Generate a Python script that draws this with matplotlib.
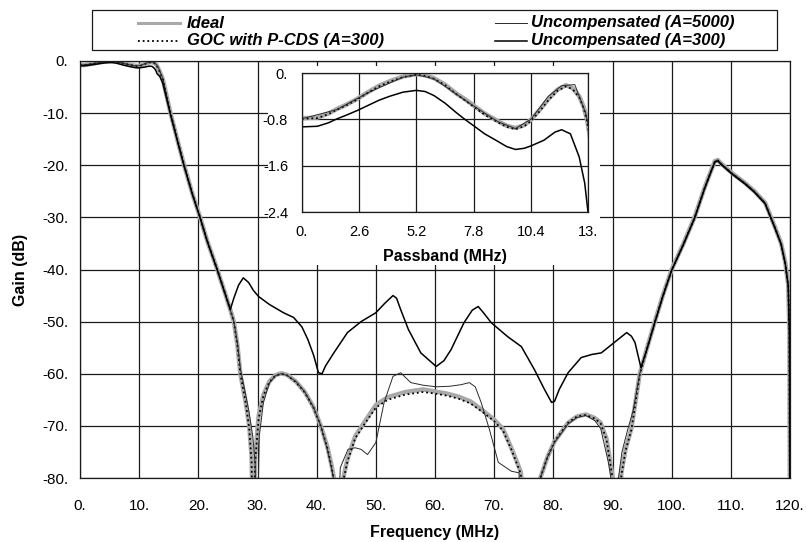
import matplotlib
matplotlib.use("Agg")
import matplotlib.pyplot as plt
from matplotlib.patches import Rectangle
from matplotlib.lines import Line2D

plt.rcParams['font.family'] = ['Liberation Sans', 'DejaVu Sans']

# ---- data (frequency in MHz, gain in dB) ----
freq_ideal = [0, 0.7, 1.2, 1.6, 2.0, 2.5, 3.0, 3.5, 4.0, 4.6,
              5.2, 5.6, 6.0, 6.5, 7.0, 7.4, 7.8, 8.3, 8.9, 9.3,
              9.7, 10.1, 10.4, 10.8, 11.2, 11.6, 12.0, 12.3, 12.6, 12.8,
              12.95, 13.3, 14.0, 15.3, 16.5, 17.6, 19.0, 20.3, 21.5, 23.2,
              24.5, 25.4, 26.0, 26.6, 27.1, 28.0, 28.6, 29.0, 29.3, 29.6,
              30.2, 31.0, 32.0, 33.0, 34.0, 35.0, 36.5, 38.0, 39.5, 40.7,
              41.8, 42.5, 43.0, 43.7, 44.5, 45.2, 46.5, 48.0, 50.0, 52.0,
              55.0, 58.0, 60.0, 62.0, 64.0, 66.0, 68.0, 70.0, 71.5, 73.0,
              74.5, 75.5, 76.5, 77.8, 79.0, 80.2, 82.5, 84.0, 85.5, 87.0,
              88.0, 89.0, 90.2, 90.8, 91.5, 92.2, 93.2, 94.6, 95.8, 97.1,
              98.5, 100.0, 102.0, 103.9, 105.5, 106.5, 107.3, 107.8, 108.5, 110.2,
              112.4, 114.0, 115.8, 117.5, 118.5, 119.2, 119.7, 119.9, 120.0]
gain_ideal = [-0.78, -0.77, -0.70, -0.62, -0.55, -0.45, -0.33, -0.22, -0.14, -0.06,
              -0.02, -0.04, -0.09, -0.20, -0.35, -0.45, -0.56, -0.70, -0.83, -0.91,
              -0.95, -0.90, -0.81, -0.64, -0.45, -0.29, -0.21, -0.26, -0.40, -0.58,
              -0.80, -1.6, -3.5, -10.0, -15.3, -20.0, -25.5, -30.0, -34.5, -40.0,
              -44.5, -47.7, -50.0, -54.5, -60.0, -65.5, -70.0, -76.0, -95.0, -76.0,
              -68.0, -64.0, -61.5, -60.3, -59.9, -60.2, -61.5, -63.5, -66.5, -70.0,
              -74.0, -77.5, -80.5, -95.0, -80.0, -76.4, -72.0, -69.4, -66.0, -64.5,
              -63.5, -63.0, -63.4, -63.8, -64.4, -65.3, -67.0, -68.8, -70.6, -74.5,
              -78.8, -90.0, -100.0, -80.0, -76.0, -73.0, -69.4, -68.2, -67.8, -68.5,
              -69.4, -72.5, -81.0, -100.0, -79.0, -74.5, -70.5, -60.0, -55.2, -50.2,
              -45.0, -40.0, -35.0, -29.9, -24.5, -21.5, -19.2, -19.0, -19.8, -21.5,
              -23.4, -25.0, -27.2, -32.0, -35.0, -38.7, -43.0, -52.0, -95.0]
gain_goc = [-0.79, -0.78, -0.71, -0.63, -0.56, -0.46, -0.34, -0.23, -0.15, -0.07,
            -0.03, -0.05, -0.10, -0.21, -0.36, -0.47, -0.58, -0.72, -0.85, -0.93,
            -0.97, -0.92, -0.83, -0.66, -0.47, -0.31, -0.23, -0.28, -0.42, -0.60,
            -0.82, -1.6, -3.5, -10.0, -15.3, -20.0, -25.5, -30.0, -34.5, -40.0,
            -44.5, -47.7, -50.0, -54.5, -60.0, -65.5, -70.5, -77.0, -95.0, -77.0,
            -68.5, -64.2, -61.6, -60.4, -60.0, -60.3, -61.6, -63.6, -66.6, -70.1,
            -74.2, -77.8, -81.0, -95.0, -80.5, -76.8, -72.4, -69.8, -66.5, -65.0,
            -64.0, -63.5, -63.8, -64.2, -64.8, -65.7, -67.3, -69.1, -70.9, -74.8,
            -79.2, -90.0, -100.0, -80.0, -76.0, -73.0, -69.4, -68.2, -67.9, -68.6,
            -69.5, -72.7, -81.5, -100.0, -79.5, -74.8, -70.7, -60.2, -55.3, -50.3,
            -45.1, -40.1, -35.1, -30.0, -24.6, -21.6, -19.3, -19.1, -19.9, -21.6,
            -23.5, -25.1, -27.3, -32.1, -35.1, -38.8, -43.1, -52.0, -95.0]

freq_a5000 = [0, 1.6, 3.0, 4.6, 5.2, 6.0, 7.0, 7.8, 8.9, 9.7,
              10.4, 11.2, 11.8, 12.4, 12.9, 13.3, 14.0, 15.3, 16.5, 17.6,
              19.0, 20.3, 21.5, 23.2, 24.5, 25.4, 26.0, 26.6, 27.1, 28.0,
              28.6, 29.2, 29.6, 29.9, 30.3, 31.0, 32.0, 33.0, 34.0, 35.0,
              36.5, 38.0, 39.5, 40.7, 41.8, 42.5, 42.9, 43.3, 44.0, 45.3,
              46.5, 47.5, 48.6, 50.0, 51.4, 52.9, 54.2, 55.9, 58.0, 60.2,
              62.5, 64.4, 65.8, 66.8, 67.8, 69.2, 70.7, 72.9, 74.2, 74.6,
              76.0, 77.8, 79.0, 80.2, 82.5, 84.0, 85.5, 87.0, 88.0, 89.3,
              89.8, 90.3, 91.0, 91.6, 92.5, 93.5, 94.6, 95.8, 97.1, 98.5,
              100.0, 102.0, 103.9, 105.5, 106.5, 107.3, 107.8, 108.5, 110.2, 112.4,
              114.0, 115.8, 117.5, 118.5, 119.2, 119.7, 119.9, 120.0]
gain_a5000 = [-0.79, -0.63, -0.34, -0.07, -0.03, -0.10, -0.36, -0.57, -0.84, -0.96,
              -0.80, -0.40, -0.22, -0.20, -0.70, -1.4, -3.4, -10.0, -15.3, -20.0,
              -25.5, -30.0, -34.5, -40.0, -44.5, -47.7, -50.0, -54.0, -59.0, -64.0,
              -67.5, -72.0, -77.0, -95.0, -72.0, -65.5, -61.8, -60.4, -60.0, -60.3,
              -61.5, -63.5, -66.5, -70.0, -74.5, -78.0, -80.5, -95.0, -78.0, -74.5,
              -74.2, -74.5, -75.5, -73.2, -65.5, -60.5, -59.8, -61.7, -62.2, -62.5,
              -62.4, -62.1, -61.7, -62.5, -65.5, -70.7, -77.0, -78.7, -79.0, -95.0,
              -100.0, -80.0, -76.0, -73.2, -69.6, -68.4, -68.0, -69.0, -70.5, -77.0,
              -80.5, -100.0, -80.0, -75.0, -71.0, -67.0, -60.0, -55.2, -50.2, -45.0,
              -40.0, -35.0, -29.9, -24.5, -21.5, -19.2, -19.0, -19.8, -21.5, -23.4,
              -25.0, -27.2, -32.0, -35.0, -38.7, -43.0, -52.0, -95.0]

freq_a300 = [0, 0.7, 1.2, 1.6, 2.0, 2.5, 3.0, 3.5, 4.0, 4.6,
             5.2, 5.6, 6.0, 6.5, 7.0, 7.4, 7.8, 8.3, 8.9, 9.3,
             9.7, 10.1, 10.4, 11.0, 11.5, 11.8, 12.2, 12.6, 12.85, 13.0,
             13.5, 14.0, 15.3, 16.5, 17.6, 19.0, 20.3, 21.5, 23.2, 24.5,
             25.4, 26.0, 26.8, 27.6, 28.5, 29.3, 30.2, 32.0, 34.4, 36.1,
             37.5, 38.5, 39.5, 40.3, 40.9, 41.5, 42.9, 45.2, 47.5, 50.0,
             51.5, 52.9, 53.5, 54.2, 55.5, 57.6, 60.2, 61.5, 62.7, 64.9,
             66.3, 67.3, 68.2, 69.5, 72.3, 74.6, 76.8, 78.5, 79.7, 80.2,
             81.0, 82.5, 84.7, 86.5, 88.1, 90.3, 92.4, 93.2, 93.8, 94.8,
             95.8, 97.1, 98.5, 100.0, 102.0, 103.9, 105.5, 106.5, 107.3, 107.8,
             108.5, 110.2, 112.4, 114.0, 115.8, 117.5, 118.5, 119.2, 119.7, 119.9,
             120.0]
gain_a300 = [-0.93, -0.92, -0.86, -0.79, -0.73, -0.65, -0.56, -0.47, -0.40, -0.33,
             -0.30, -0.32, -0.39, -0.52, -0.68, -0.80, -0.91, -1.05, -1.18, -1.27,
             -1.32, -1.30, -1.26, -1.16, -1.02, -0.98, -1.05, -1.45, -1.90, -2.40,
             -3.0, -4.3, -10.3, -15.5, -20.2, -25.6, -30.1, -34.6, -40.1, -44.6,
             -47.7, -45.5, -43.0, -41.6, -42.5, -44.0, -45.2, -46.7, -48.3, -49.2,
             -51.0, -53.4, -56.5, -59.8, -60.0, -58.5, -56.0, -52.1, -50.0, -48.3,
             -46.5, -45.0, -45.5, -47.7, -51.5, -56.0, -58.6, -57.5, -55.4, -50.2,
             -47.8, -47.1, -48.3, -50.2, -52.9, -54.8, -59.2, -63.0, -65.5, -65.3,
             -63.0, -59.8, -56.9, -56.3, -56.0, -54.0, -52.1, -52.8, -54.0, -58.8,
             -55.4, -50.4, -45.2, -40.2, -35.2, -30.1, -24.7, -21.7, -19.4, -19.2,
             -20.0, -21.7, -23.6, -25.2, -27.4, -32.2, -35.2, -38.9, -43.2, -52.5,
             -95.0]

main_xticks = [0, 10, 20, 30, 40, 50, 60, 70, 80, 90, 100, 110, 120]
main_xlabels = ["0.", "10.", "20.", "30.", "40.", "50.", "60.", "70.", "80.", "90.", "100.", "110.", "120."]
main_yticks = [-80, -70, -60, -50, -40, -30, -20, -10, 0]
main_ylabels = ["-80.", "-70.", "-60.", "-50.", "-40.", "-30.", "-20.", "-10.", "0."]
inset_xticks = [0, 2.6, 5.2, 7.8, 10.4, 13]
inset_xlabels = ["0.", "2.6", "5.2", "7.8", "10.4", "13."]
inset_yticks = [-2.4, -1.6, -0.8, 0]
inset_ylabels = ["-2.4", "-1.6", "-0.8", "0."]

labels = ["Ideal", "GOC with P-CDS (A=300)", "Uncompensated (A=5000)", "Uncompensated (A=300)"]

W, H = 807, 542
fig = plt.figure(figsize=(W / 100, H / 100), dpi=100)


def box(x0, y0, x1, y1):
    # pixel box (top-left origin) -> figure fraction rect
    return [x0 / W, 1 - y1 / H, (x1 - x0) / W, (y1 - y0) / H]


styles = [dict(color="#a9a9a9", lw=3.2),
          dict(color="black", lw=1.3, ls=(0, (1, 1.6))),
          dict(color="#2a2a2a", lw=0.7),
          dict(color="black", lw=1.1)]


def draw_series(a):
    a.plot(freq_ideal, gain_ideal, **styles[0])
    a.plot(freq_ideal, gain_goc, **styles[1])
    a.plot(freq_a5000, gain_a5000, **styles[2])
    a.plot(freq_a300, gain_a300, **styles[3])


def style_axes(a, lw=0.9):
    a.grid(True, color="#1a1a1a", lw=lw)
    a.set_axisbelow(True)
    for s in a.spines.values():
        s.set_color("#1a1a1a")
        s.set_linewidth(lw)
    a.tick_params(length=0)


# main axes
ax = fig.add_axes(box(80, 61, 790, 478))
draw_series(ax)
ax.set_xlim(0, 120)
ax.set_ylim(-80, 0)
ax.set_xticks(main_xticks, main_xlabels, fontsize=11)
ax.set_yticks(main_yticks, main_ylabels, fontsize=11)
style_axes(ax)
ax.tick_params(axis="x", pad=15)
ax.tick_params(axis="y", pad=8.5)
ax.set_xlabel("Frequency (MHz)", fontsize=11.5, fontweight="bold", va="center")
ax.xaxis.set_label_coords(0.5, -(532 - 478) / 417)
ax.set_ylabel("Gain (dB)", fontsize=11.5, fontweight="bold", va="center")
ax.yaxis.set_label_coords(-(80 - 20) / 710, 0.5)

# white area behind the inset
fig.add_artist(Rectangle((268 / W, 1 - 265 / H), (600 - 268) / W, (265 - 66) / H,
                         transform=fig.transFigure, facecolor="white",
                         edgecolor="none", zorder=1))

# inset: passband detail
axi = fig.add_axes(box(302, 73, 588, 212))
axi.set_zorder(2)
draw_series(axi)
axi.set_xlim(0, 13)
axi.set_ylim(-2.4, 0)
axi.set_xticks(inset_xticks, inset_xlabels, fontsize=10.5)
axi.set_yticks(inset_yticks, inset_ylabels, fontsize=10.5)
style_axes(axi)
axi.tick_params(axis="x", pad=9.5)
axi.tick_params(axis="y", pad=10)
axi.set_xlabel("Passband (MHz)", fontsize=11.5, fontweight="bold", va="center")
axi.xaxis.set_label_coords(0.5, -(257 - 212) / 139)

# legend box drawn at the top of the figure
fig.add_artist(Rectangle((92 / W, 1 - 50 / H), (777 - 92) / W, 40 / H,
                         transform=fig.transFigure, facecolor="white",
                         edgecolor="#1a1a1a", lw=0.9))
entries = [(138, 180, 187, 23), (138, 180, 187, 41), (495, 527, 531, 23), (495, 527, 531, 41)]
for (x0, x1, xt, yc), st, lab in zip(entries, styles, labels):
    st = dict(st)
    if st["lw"] > 2:
        st["lw"] = 2.2
    fig.add_artist(Line2D([x0 / W, x1 / W], [1 - yc / H, 1 - yc / H],
                          transform=fig.transFigure, **st))
    fig.text(xt / W, 1 - yc / H, lab, fontsize=12, fontstyle="italic",
             fontweight="bold", va="center", ha="left")

fig.savefig("out.png", dpi=100)
